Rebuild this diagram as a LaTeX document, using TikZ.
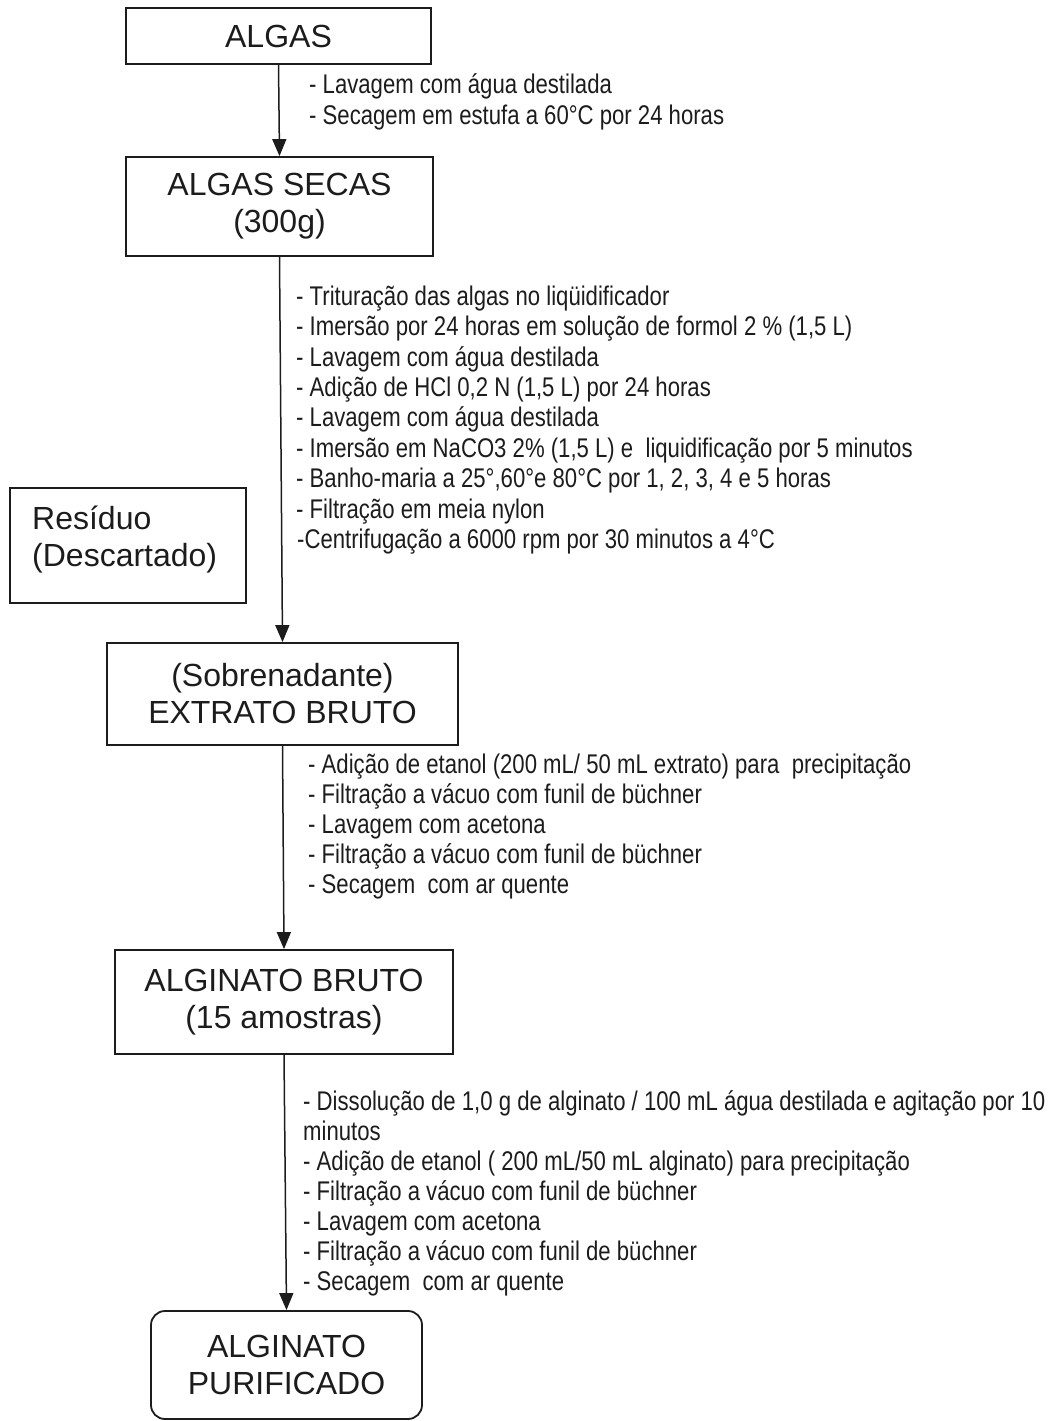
\documentclass[tikz,border=0pt]{standalone}
\usepackage{fontspec}
\setmainfont{Liberation Sans}
\newfontfamily\narrowfam[FakeStretch=0.82]{Liberation Sans}
\usetikzlibrary{arrows.meta}
\definecolor{ink}{HTML}{1c1c1c}
\newcommand{\boxfont}{\fontsize{32}{37}\selectfont}
\newcommand{\narrowtext}{\narrowfam\fontsize{27}{30}\selectfont}
\begin{document}
\begin{tikzpicture}[x=1pt,y=-1pt,
  flowbox/.style={draw=ink, line width=1.8pt, inner sep=0pt, align=center, font=\boxfont, text=ink},
  stepline/.style={anchor=base west, inner sep=0pt, font=\narrowtext, text=ink},
  flowarrow/.style={draw=ink, line width=1.5pt, -{Triangle[length=17pt,width=14pt]}}]
\useasboundingbox (0,0) rectangle (1047,1421);

% boxes
\node[flowbox, minimum width=305pt, minimum height=56pt] (algas) at (278.5,36) {ALGAS};
\node[flowbox, minimum width=307pt, minimum height=99pt] (secas) at (279.5,206.5) {ALGAS SECAS\\(300g)};
\node[flowbox, minimum width=236pt, minimum height=115pt] (residuo) at (128,545.5) {};
\node[anchor=base west, inner sep=0pt, font=\boxfont, text=ink] (resid1) at (32,529) {Resíduo};
\node[anchor=base west, inner sep=0pt, font=\boxfont, text=ink] (resid2) at (32,566) {(Descartado)};
\node[flowbox, minimum width=351pt, minimum height=102pt] (extrato) at (282.5,694) {(Sobrenadante)\\EXTRATO BRUTO};
\node[flowbox, minimum width=338pt, minimum height=104pt] (bruto) at (284,1002) {ALGINATO BRUTO\\(15 amostras)};
\node[flowbox, rounded corners=14pt, minimum width=271pt, minimum height=108pt] (purif) at (286.5,1365) {ALGINATO\\PURIFICADO};

% arrows
\draw[flowarrow] (algas.south) -- (secas.north);
\draw[flowarrow] (secas.south) -- (extrato.north);
\draw[flowarrow] (extrato.south) -- (bruto.north);
\draw[flowarrow] (bruto.south) -- (purif.north);

% step block 1
\node[stepline] (a1) at (309,93) {- Lavagem com água destilada};
\node[stepline] (a2) at (309,124) {- Secagem em estufa a 60°C por 24 horas};

% step block 2
\node[stepline] (b1) at (296,305) {- Trituração das algas no liqüidificador};
\node[stepline] (b2) at (296,335.5) {- Imersão por 24 horas em solução de formol 2 \% (1,5 L)};
\node[stepline] (b3) at (296,366) {- Lavagem com água destilada};
\node[stepline] (b4) at (296,396) {- Adição de HCl 0,2 N (1,5 L) por 24 horas};
\node[stepline] (b5) at (296,426.5) {- Lavagem com água destilada};
\node[stepline] (b6) at (296,457) {- Imersão em NaCO3 2\% (1,5 L) e\ \ liquidificação por 5 minutos};
\node[stepline] (b7) at (296,487.5) {- Banho-maria a 25°,60°e 80°C por 1, 2, 3, 4 e 5 horas};
\node[stepline] (b8) at (296,518) {- Filtração em meia nylon};
\node[stepline] (b9) at (297,548) {-Centrifugação a 6000 rpm por 30 minutos a 4°C};

% step block 3
\node[stepline] (c1) at (308,773) {- Adição de etanol (200 mL/ 50 mL extrato) para\ \ precipitação};
\node[stepline] (c2) at (308,803) {- Filtração a vácuo com funil de büchner};
\node[stepline] (c3) at (308,833) {- Lavagem com acetona};
\node[stepline] (c4) at (308,863) {- Filtração a vácuo com funil de büchner};
\node[stepline] (c5) at (308,893) {- Secagem\ \ com ar quente};

% step block 4
\node[stepline] (d1) at (303,1110) {- Dissolução de 1,0 g de alginato / 100 mL água destilada e agitação por 10};
\node[stepline] (d2) at (303,1140) {minutos};
\node[stepline] (d3) at (303,1170.5) {- Adição de etanol ( 200 mL/50 mL alginato) para precipitação};
\node[stepline] (d4) at (303,1200.5) {- Filtração a vácuo com funil de büchner};
\node[stepline] (d5) at (303,1230.5) {- Lavagem com acetona};
\node[stepline] (d6) at (303,1260.5) {- Filtração a vácuo com funil de büchner};
\node[stepline] (d7) at (303,1290.5) {- Secagem\ \ com ar quente};
\end{tikzpicture}
\end{document}
